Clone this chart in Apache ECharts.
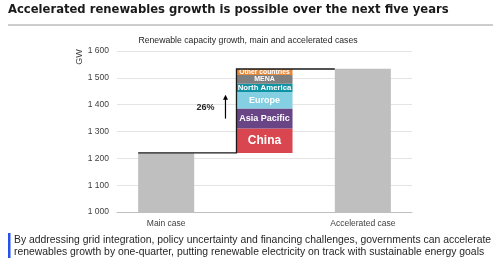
<!DOCTYPE html>
<html><head><meta charset="utf-8">
<script src="https://cdn.jsdelivr.net/npm/echarts@6/dist/echarts.min.js"></script>
<style>html,body{margin:0;padding:0;background:#fff}#c{width:500px;height:264px}</style>
</head><body><div id="c"></div>
<script>
const title = 'Accelerated renewables growth is possible over the next five years';
const subtitle = 'Renewable capacity growth, main and accelerated cases';
const footnote = ['By addressing grid integration, policy uncertainty and financing challenges, governments can accelerate',
  'renewables growth by one-quarter, putting renewable electricity on track with sustainable energy goals'];
const categories = ['Main case', '', 'Accelerated case'];
const totals = [1220, null, 1534];
const stackBase = 1220;
const regions = ['China', 'Asia Pacific', 'Europe', 'North America', 'MENA', 'Other countries'];
const regionValues = [91, 75, 61, 31, 33, 22];
const regionColors = ['#d9464f', '#6a4585', '#84cfe1', '#0f93a3', '#7f7f7f', '#e5893b'];
const regionFont = [12, 9, 9, 7.8, 7, 6.8];
const yTicks = { min: 1000, max: 1600, interval: 100 };
const growthLabel = '26%';
const arrowRange = [1348, 1437];

const chart = echarts.init(document.getElementById('c'), null, { renderer: 'canvas' });
const BW = 0.57;
const series = [];
series.push({
  type: 'bar', barWidth: (BW * 100) + '%', barGap: '-100%',
  itemStyle: { color: '#bfbfbf' },
  data: totals.map(v => v == null ? '-' : v), silent: true, z: 2
});
series.push({
  type: 'bar', stack: 'acc', barWidth: (BW * 100) + '%',
  itemStyle: { color: 'transparent' },
  data: ['-', stackBase, '-'], silent: true
});
regions.forEach((r, i) => {
  series.push({
    type: 'bar', stack: 'acc', name: r, barWidth: (BW * 100) + '%',
    itemStyle: { color: regionColors[i] },
    label: { show: true, position: 'inside', formatter: r, color: '#fff', fontWeight: 'bold',
      fontSize: regionFont[i], fontFamily: 'Liberation Sans' },
    data: ['-', regionValues[i], '-'], z: 3
  });
});
const accTop = stackBase + regionValues.reduce((a, b) => a + b, 0);
series.push({
  type: 'custom', silent: true, z: 10,
  data: [[1, stackBase]],
  renderItem: function (params, api) {
    const band = api.size([1, 0])[0];
    const hw = band * BW / 2;
    const p0 = api.coord([0, totals[0]]);
    const p1b = api.coord([1, stackBase]);
    const p1t = api.coord([1, accTop]);
    const p2 = api.coord([2, totals[2]]);
    const a0 = api.coord([1, arrowRange[0]]);
    const a1 = api.coord([1, arrowRange[1]]);
    const ax = p1b[0] - hw - 11;
    const children = [
      { type: 'polyline', shape: { points: [[p0[0] - hw, p0[1]], [p1b[0] - hw, p1b[1]], [p1t[0] - hw, p1t[1]], [p2[0] - hw, p1t[1]]] },
        style: { stroke: '#1a1a1a', lineWidth: 1.3, fill: null } },
      { type: 'line', shape: { x1: ax, y1: a0[1], x2: ax, y2: a1[1] + 4 }, style: { stroke: '#000', lineWidth: 1.2 } },
      { type: 'polygon', shape: { points: [[ax, a1[1]], [ax - 2.5, a1[1] + 5], [ax + 2.5, a1[1] + 5]] }, style: { fill: '#000' } },
      { type: 'text', style: { text: growthLabel, x: ax - 20, y: (a0[1] + a1[1]) / 2 + 1, align: 'center', verticalAlign: 'middle',
        font: 'bold 9px "Liberation Sans"', fill: '#262626' } }
    ];
    return { type: 'group', children };
  }
});

chart.setOption({
  animation: false,
  textStyle: { fontFamily: 'Liberation Sans' },
  grid: { left: 117, right: 88, top: 51, bottom: 52 },
  xAxis: {
    type: 'category', data: categories,
    axisLine: { lineStyle: { color: '#bfbfbf' } }, axisTick: { show: false },
    axisLabel: { color: '#404040', fontSize: 8.5, margin: 7 }
  },
  yAxis: {
    type: 'value', min: yTicks.min, max: yTicks.max, interval: yTicks.interval,
    axisLine: { show: false }, axisTick: { show: false },
    splitLine: { lineStyle: { color: '#e4e4e4' } },
    axisLabel: { color: '#404040', fontSize: 8.5, margin: 8,
      formatter: v => String(v).replace(/\B(?=(\d{3})+(?!\d))/g, ' ') }
  },
  graphic: [
    { type: 'text', left: 8, top: 4, style: { text: title, font: 'bold 11.6px "DejaVu Sans"', fill: '#1a1a1a' } },
    { type: 'line', shape: { x1: 8, y1: 25, x2: 493, y2: 25 }, style: { stroke: '#9a9a9a', lineWidth: 1 } },
    { type: 'text', x: 248, y: 41, style: { text: subtitle, font: '8.7px "Liberation Sans"', fill: '#262626', align: 'center', verticalAlign: 'middle' } },
    { type: 'text', x: 80, y: 57, rotation: Math.PI / 2, style: { text: 'GW', font: '9px "Liberation Sans"', fill: '#404040', align: 'center', verticalAlign: 'middle' } },
    { type: 'rect', shape: { x: 8, y: 233, width: 2.5, height: 25 }, style: { fill: '#2650ef' } },
    { type: 'text', x: 14, y: 240, style: { text: footnote[0], font: '10.4px "Liberation Sans"', fill: '#262626', verticalAlign: 'middle' } },
    { type: 'text', x: 14, y: 252, style: { text: footnote[1], font: '10.4px "Liberation Sans"', fill: '#262626', verticalAlign: 'middle' } }
  ],
  series
});
</script></body></html>
